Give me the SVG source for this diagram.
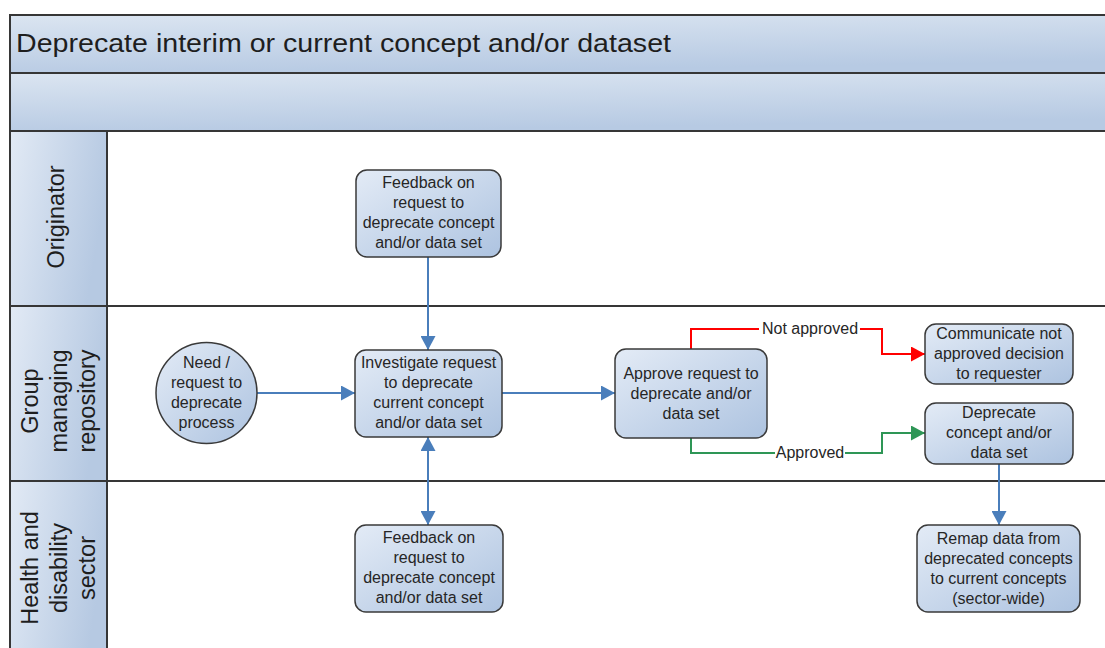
<svg xmlns="http://www.w3.org/2000/svg" width="1105" height="648" viewBox="0 0 1105 648">
<defs>
<linearGradient id="barG" x1="0" y1="0" x2="0.3" y2="1">
<stop offset="0" stop-color="#dbe5f1"/>
<stop offset="1" stop-color="#b7cae3"/>
</linearGradient>
<linearGradient id="hdrG" x1="0" y1="0" x2="1" y2="0.3">
<stop offset="0" stop-color="#e2eaf5"/>
<stop offset="1" stop-color="#b6c9e2"/>
</linearGradient>
<linearGradient id="nodeG" x1="0" y1="0" x2="1" y2="1">
<stop offset="0" stop-color="#e3ebf6"/>
<stop offset="1" stop-color="#adc3e0"/>
</linearGradient>
<marker id="ab" markerWidth="14" markerHeight="15" refX="14" refY="7.5" orient="auto-start-reverse" markerUnits="userSpaceOnUse">
<path d="M0,0 L14,7.5 L0,15 z" fill="#4a7ebb"/>
</marker>
<marker id="ar" markerWidth="14" markerHeight="15" refX="14" refY="7.5" orient="auto" markerUnits="userSpaceOnUse">
<path d="M0,0 L14,7.5 L0,15 z" fill="#ff0000"/>
</marker>
<marker id="ag" markerWidth="14" markerHeight="15" refX="14" refY="7.5" orient="auto" markerUnits="userSpaceOnUse">
<path d="M0,0 L14,7.5 L0,15 z" fill="#2e9656"/>
</marker>
</defs>
<style>
.frame{stroke:#363636;stroke-width:2;}
.node{fill:url(#nodeG);stroke:#3a3a3a;stroke-width:1.5;}
.t{font-family:"Liberation Sans",Arial,sans-serif;font-size:16px;fill:#262626;text-anchor:middle;}
.lane{font-family:"Liberation Sans",Arial,sans-serif;font-size:23.5px;fill:#1e1e1e;text-anchor:middle;}
.title{font-family:"Liberation Sans",Arial,sans-serif;font-size:26px;fill:#1e1e1e;}
.lbl{font-family:"Liberation Sans",Arial,sans-serif;font-size:16px;fill:#262626;text-anchor:middle;}
.cb{fill:none;stroke:#4a7ebb;stroke-width:2;}
.cr{fill:none;stroke:#ff0000;stroke-width:2;}
.cg{fill:none;stroke:#2e9656;stroke-width:2;}
</style>
<rect width="1105" height="648" fill="#ffffff"/>
<g id="pool">
<rect x="10" y="15" width="1100" height="58" fill="url(#barG)" class="frame"/>
<rect x="10" y="73" width="1100" height="58" fill="url(#barG)" class="frame"/>
<text class="title" x="16" y="52" textLength="655" lengthAdjust="spacingAndGlyphs">Deprecate interim or current concept and/or dataset</text>
</g>
<g id="lane-originator">
<rect x="10" y="131" width="97" height="175" fill="url(#hdrG)" class="frame"/>
<line x1="107" y1="131" x2="1110" y2="131" class="frame"/>
<text class="lane" transform="translate(64,217) rotate(-90)">Originator</text>
</g>
<g id="lane-group">
<rect x="10" y="306" width="97" height="175" fill="url(#hdrG)" class="frame"/>
<line x1="107" y1="306" x2="1110" y2="306" class="frame"/>
<text class="lane" transform="translate(38,401) rotate(-90)">Group</text>
<text class="lane" transform="translate(66.5,401) rotate(-90)">managing</text>
<text class="lane" transform="translate(95,401) rotate(-90)">repository</text>
</g>
<g id="lane-health">
<rect x="10" y="481" width="97" height="180" fill="url(#hdrG)" class="frame"/>
<line x1="107" y1="481" x2="1110" y2="481" class="frame"/>
<text class="lane" transform="translate(38,568) rotate(-90)">Health and</text>
<text class="lane" transform="translate(66.5,568) rotate(-90)">disability</text>
<text class="lane" transform="translate(95,568) rotate(-90)">sector</text>
</g>
<g id="connectors">
<path class="cb" d="M428,257 L428,350" marker-end="url(#ab)"/>
<path class="cb" d="M257,393 L355,393" marker-end="url(#ab)"/>
<path class="cb" d="M502,393 L615,393" marker-end="url(#ab)"/>
<path class="cb" d="M428,437 L428,525" marker-start="url(#ab)" marker-end="url(#ab)"/>
<path class="cr" d="M691,349 L691,329 L882,329 L882,354 L925,354" marker-end="url(#ar)"/>
<path class="cg" d="M691,438 L691,453 L882,453 L882,433 L925,433" marker-end="url(#ag)"/>
<path class="cb" d="M999,464 L999,525" marker-end="url(#ab)"/>
<rect x="759" y="320" width="101" height="18" fill="#ffffff"/>
<text class="lbl" x="810" y="334">Not approved</text>
<rect x="775" y="444" width="70" height="18" fill="#ffffff"/>
<text class="lbl" x="810" y="458">Approved</text>
</g>
<g id="feedback-originator">
<rect x="356" y="170" width="145" height="87" rx="11" class="node"/>
<text class="t" x="428.5" y="188">Feedback on</text>
<text class="t" x="428.5" y="208">request to</text>
<text class="t" x="428.5" y="228">deprecate concept</text>
<text class="t" x="428.5" y="248">and/or data set</text>
</g>
<g id="need">
<circle cx="206.5" cy="393" r="50.5" class="node"/>
<text class="t" x="206.5" y="368">Need /</text>
<text class="t" x="206.5" y="388">request to</text>
<text class="t" x="206.5" y="408">deprecate</text>
<text class="t" x="206.5" y="428">process</text>
</g>
<g id="investigate">
<rect x="355" y="350" width="147" height="87" rx="11" class="node"/>
<text class="t" x="428.5" y="368">Investigate request</text>
<text class="t" x="428.5" y="388">to deprecate</text>
<text class="t" x="428.5" y="408">current concept</text>
<text class="t" x="428.5" y="428">and/or data set</text>
</g>
<g id="approve">
<rect x="615" y="349" width="152" height="89" rx="11" class="node"/>
<text class="t" x="691" y="379">Approve request to</text>
<text class="t" x="691" y="399">deprecate and/or</text>
<text class="t" x="691" y="419">data set</text>
</g>
<g id="communicate">
<rect x="925" y="324" width="148" height="60" rx="11" class="node"/>
<text class="t" x="999" y="339">Communicate not</text>
<text class="t" x="999" y="359">approved decision</text>
<text class="t" x="999" y="379">to requester</text>
</g>
<g id="deprecate">
<rect x="925" y="403" width="148" height="61" rx="11" class="node"/>
<text class="t" x="999" y="418">Deprecate</text>
<text class="t" x="999" y="438">concept and/or</text>
<text class="t" x="999" y="458">data set</text>
</g>
<g id="feedback-sector">
<rect x="355" y="525" width="148" height="87" rx="11" class="node"/>
<text class="t" x="429" y="543">Feedback on</text>
<text class="t" x="429" y="563">request to</text>
<text class="t" x="429" y="583">deprecate concept</text>
<text class="t" x="429" y="603">and/or data set</text>
</g>
<g id="remap">
<rect x="917" y="525" width="163" height="87" rx="11" class="node"/>
<text class="t" x="998.5" y="544">Remap data from</text>
<text class="t" x="998.5" y="564">deprecated concepts</text>
<text class="t" x="998.5" y="584">to current concepts</text>
<text class="t" x="998.5" y="604">(sector-wide)</text>
</g>
</svg>
